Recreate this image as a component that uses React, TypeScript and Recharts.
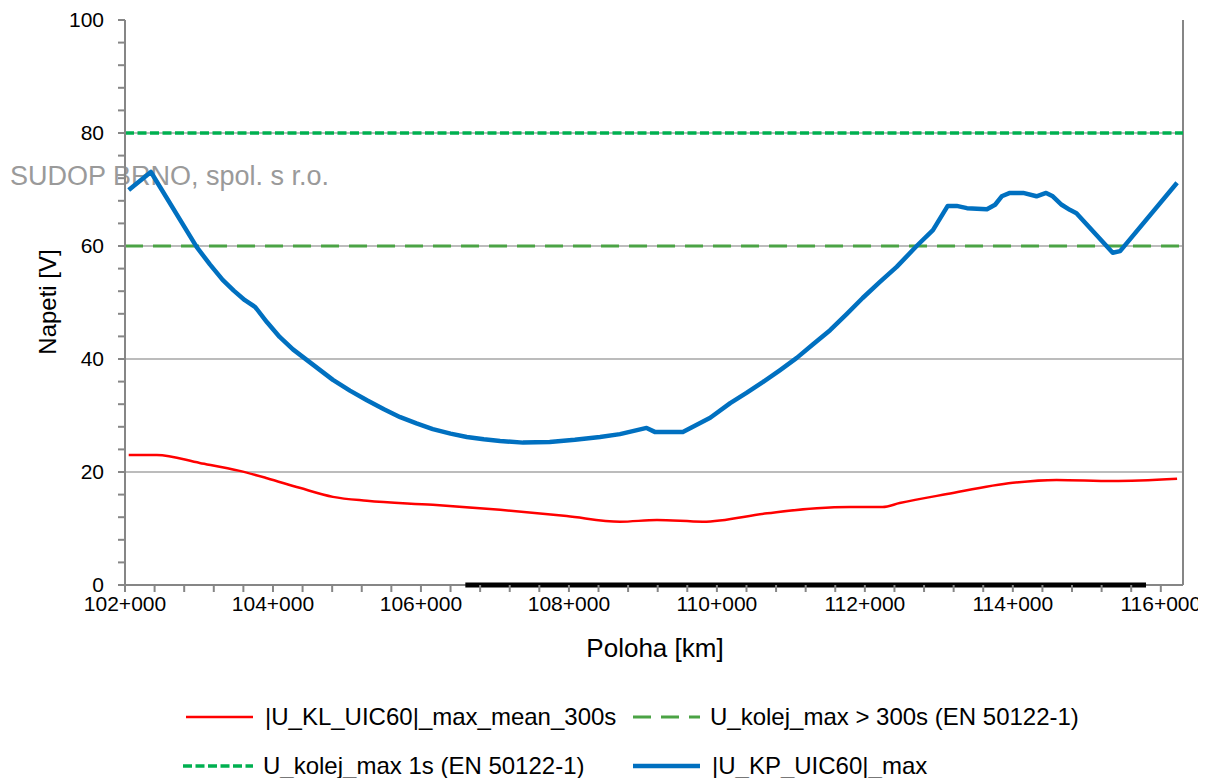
import React from "react";
import {Line, LineChart, ReferenceLine, XAxis, YAxis} from "recharts";

// poloha [km] / napeti [V]
const kmBlue = [102.05, 102.35, 102.97, 103.15, 103.32, 103.47, 103.62, 103.76, 103.92, 104.09, 104.27, 104.46,
	104.81, 105.04, 105.27, 105.5, 105.72, 105.94, 106.16, 106.4, 106.62, 106.85, 107.07, 107.38, 107.74,
	108.08, 108.42, 108.69, 109.05, 109.16, 109.54, 109.91, 110.18, 110.4, 110.62, 110.85, 111.08, 111.3,
	111.53, 111.75, 111.97, 112.2, 112.43, 112.7, 112.92, 113.12, 113.24, 113.38, 113.65, 113.76, 113.85,
	113.96, 114.14, 114.32, 114.45, 114.54, 114.66, 114.77, 114.86, 115.35, 115.45, 116.22];
const uKP = [69.9, 73.1, 59.8, 56.7, 54.0, 52.1, 50.4, 49.2, 46.5, 43.9, 41.7, 39.8,
	36.3, 34.4, 32.7, 31.1, 29.7, 28.6, 27.6, 26.8, 26.2, 25.8, 25.5, 25.2, 25.3,
	25.7, 26.2, 26.7, 27.8, 27.1, 27.1, 29.6, 32.2, 34.0, 35.9, 38.0, 40.2, 42.6,
	45.1, 47.9, 50.8, 53.6, 56.3, 60.0, 62.8, 67.1, 67.1, 66.7, 66.5, 67.3, 68.8,
	69.4, 69.4, 68.8, 69.4, 68.8, 67.3, 66.4, 65.8, 58.8, 59.1, 71.2];

const kmRed = [102.05, 102.43, 103.01, 103.55, 103.92, 104.36, 104.81, 105.27, 106.16, 107.07, 107.97, 108.69,
	109.19, 109.81, 110.68, 111.35, 111.8, 112.24, 112.47, 113.11, 114.0, 114.59, 115.35, 116.22];
const uKL = [23.0, 23.0, 21.6, 20.2, 18.9, 17.2, 15.6, 14.9, 14.2, 13.3, 12.2, 11.2,
	11.5, 11.2, 12.7, 13.6, 13.8, 13.8, 14.5, 16.1, 18.1, 18.6, 18.4, 18.8];

const limitKm = [102, 116.3];
const limit300s = [60, 60];
const limit1s = [80, 80];

const sectionKm = [106.6, 115.8];
const sectionU = [0, 0];

const majorKm = [102, 104, 106, 108, 110, 112, 114, 116];
const majorU = [0, 20, 40, 60, 80, 100];
const gridU = [20, 40, 60, 80];

const xTicks: number[] = [];
for (let i = 0; i <= 35; i++) xTicks.push(Math.round((102 + i * 0.4) * 10) / 10);
const yTicks: number[] = [];
for (let i = 0; i <= 25; i++) yTicks.push(i * 4);

const zip = (xs: number[], ys: number[]) => xs.map((x, i) => ({km: x, u: ys[i]}));

const FONT = "'Liberation Sans', Arial, sans-serif";
const AXIS = "#868686";

const legendItems = [
	{name: "|U_KL_UIC60|_max_mean_300s", color: "#ff0000", width: 2.5, dash: "", left: 178, top: 709, len: 67, gap: 12},
	{name: "U_kolej_max > 300s (EN 50122-1)", color: "#4ba345", width: 3, dash: "18 10", left: 625, top: 709, len: 67, gap: 10},
	{name: "U_kolej_max 1s (EN 50122-1)", color: "#00b050", width: 3.5, dash: "9 3.5", left: 175, top: 758, len: 70, gap: 10},
	{name: "|U_KP_UIC60|_max", color: "#0070c0", width: 4.5, dash: "", left: 625, top: 758, len: 67, gap: 12},
];

const App = () => {
	return (
		<div style={{position: "relative", width: 1198, height: 770, fontFamily: FONT}}>
			<div style={{position: "absolute", left: 2, top: 153, fontSize: 27, lineHeight: "30px", color: "#9a9a9a", whiteSpace: "nowrap"}}>
				SUDOP BRNO, spol. s r.o.
			</div>
			<LineChart width={1198} height={670} margin={{top: 12, right: 23, bottom: 0, left: 0}}>
				<XAxis type="number" dataKey="km" domain={[102, 116.3]} ticks={xTicks} axisLine={false}
				       interval={0} height={93} stroke={AXIS} strokeWidth={2} tickSize={7} tickMargin={4}
				       tick={{fontSize: 21, fill: "#000", fontFamily: FONT}}
				       tickFormatter={(v: number) => (majorKm.includes(v) ? `${v}+000` : "")}
				       label={{
					       content: () => (
						       <text x={647} y={640} textAnchor="middle" dominantBaseline="central"
						             fontSize={26} fontFamily={FONT} fill="#000">Poloha [km]</text>
					       )
				       }}/>
				<YAxis type="number" domain={[0, 100]} ticks={yTicks} interval={0} width={117}
				       stroke={AXIS} strokeWidth={2} tickSize={7} tickMargin={14}
				       tick={{fontSize: 21, fill: "#000", fontFamily: FONT}}
				       tickFormatter={(v: number) => (majorU.includes(v) ? String(v) : "")}
				       label={{
					       content: () => (
						       <text x={39} y={294} textAnchor="middle" dominantBaseline="central"
						             transform="rotate(-90 39 294)" fontSize={24} fontFamily={FONT} fill="#000">Napeti [V]</text>
					       )
				       }}/>
				{gridU.map(g => <ReferenceLine key={g} y={g} stroke="#a6a6a6" strokeWidth={1.5}/>)}
				<ReferenceLine y={0} stroke={AXIS} strokeWidth={2}/>
				<ReferenceLine x={116.3} stroke={AXIS} strokeWidth={2}/>
				<Line data={zip(sectionKm, sectionU)} dataKey="u" stroke="#000" strokeWidth={5} dot={false}
				      isAnimationActive={false}/>
				<Line data={zip(limitKm, limit300s)} dataKey="u" stroke="#4ba345" strokeWidth={3} strokeDasharray="18 10"
				      dot={false} isAnimationActive={false}/>
				<Line data={zip(limitKm, limit1s)} dataKey="u" stroke="#00b050" strokeWidth={3.5} strokeDasharray="9 3.5"
				      dot={false} isAnimationActive={false}/>
				<Line data={zip(kmRed, uKL)} dataKey="u" type="monotone" stroke="#ff0000" strokeWidth={2.5} dot={false}
				      isAnimationActive={false}/>
				<Line data={zip(kmBlue, uKP)} dataKey="u" type="linear" stroke="#0070c0" strokeWidth={4.5} dot={false}
				      strokeLinejoin="round" isAnimationActive={false}/>
			</LineChart>
			{legendItems.map(item => (
				<div key={item.name} style={{position: "absolute", left: item.left, top: item.top - 15, height: 30,
					display: "flex", alignItems: "center", whiteSpace: "nowrap", fontSize: 24}}>
					<svg width={item.len} height={10} style={{marginRight: item.gap}}>
						<line x1={0} y1={5} x2={item.len} y2={5} stroke={item.color} strokeWidth={item.width}
						      strokeDasharray={item.dash || undefined}/>
					</svg>
					<span>{item.name}</span>
				</div>
			))}
		</div>
	);
};

export default App;
